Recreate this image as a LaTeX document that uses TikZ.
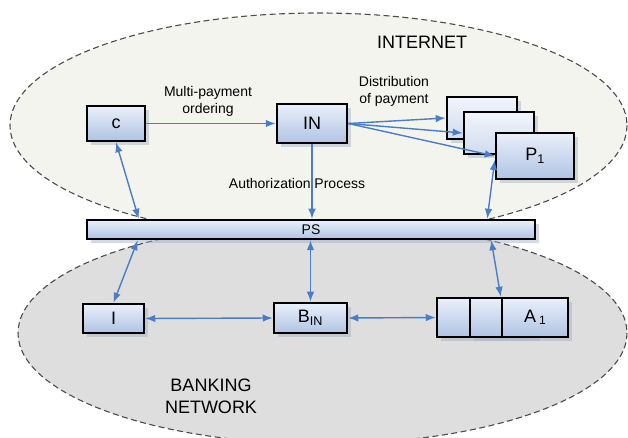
\documentclass[tikz,border=0pt]{standalone}
\usepackage{fontspec}
\setmainfont{Liberation Sans}
\usetikzlibrary{arrows.meta,shadows}
\definecolor{arrblue}{HTML}{4A7DC9}
\definecolor{boxtop}{HTML}{EAF0FA}
\definecolor{boxbot}{HTML}{AFC3E3}
\definecolor{netfill}{HTML}{F4F4EE}
\definecolor{bankfill}{HTML}{DEDEDE}

\begin{document}
\begin{tikzpicture}[x=1bp,y=-1bp,>={Latex[length=10bp,width=7.5bp]},
  b/.style={draw=black,line width=2.5bp,top color=boxtop,bottom color=boxbot,
            drop shadow={shadow xshift=4bp,shadow yshift=-4bp,fill=boxbot!70!gray,opacity=.45},
            inner sep=0pt,font=\fontsize{18bp}{20bp}\selectfont},
  lt/.style={top color=boxtop!60!white,bottom color=boxbot!60!white},
  t/.style={align=center,font=\fontsize{14bp}{17bp}\selectfont},
  h/.style={align=center,font=\fontsize{18bp}{22bp}\selectfont},
  a/.style={->,arrblue,line width=1.4bp},
  aa/.style={<->,arrblue,line width=1.4bp},
  net/.style={draw=black!70,line width=1.1bp,dash pattern=on 6bp off 3.5bp}]
\useasboundingbox (0,0) rectangle (628,438);
\clip (0,0) rectangle (628,438);
\fill[white] (0,0) rectangle (628,438);
\draw[net,fill=bankfill] (322.5,333) ellipse [x radius=304.5,y radius=111];
\draw[net,fill=netfill] (318.5,125.4) ellipse [x radius=308.5,y radius=112.4];
\node[h] (inet) at (422,42) {INTERNET};
\node[h] (bank) at (211,396) {BANKING\\NETWORK};
\node[b,minimum width=58bp,minimum height=35bp] (c) at (116,123.5) {c};
\node[b,minimum width=70bp,minimum height=39bp] (in) at (312,123.5) {IN};
\node[b,lt,minimum width=70bp,minimum height=42bp] (p3) at (482,118) {};
\node[b,lt,minimum width=70bp,minimum height=42bp] (p2) at (499,133) {};
\node[b,minimum width=78bp,minimum height=46bp] (p1) at (535,156) {P\textsubscript{1}};
\node[b,minimum width=448bp,minimum height=19bp,
      font=\fontsize{14bp}{15bp}\selectfont] (ps) at (311,229.5) {PS};
\node[b,minimum width=61bp,minimum height=29bp] (i) at (113.5,318.5) {I};
\node[b,minimum width=73bp,minimum height=30bp] (bin) at (310.5,318) {B\textsubscript{IN}};
\node[b,minimum width=66bp,minimum height=39bp] (a3) at (470,317.5) {};
\node[b,minimum width=66bp,minimum height=39bp] (a2) at (503,317.5) {};
\node[b,minimum width=66bp,minimum height=39bp] (a1) at (535,317.5)
  {A\,{\fontsize{12bp}{12bp}\selectfont\raisebox{-2bp}{1}}};
\node[t] (mp) at (208,101) {Multi-payment\\ordering};
\node[t] (dp) at (394,91.5) {Distribution\\of payment};
\node[t] (ap) at (297,183) {Authorization Process};
\draw[a] (c) -- (in);
\foreach \p in {p3,p2,p1} \draw[a] (in.east) -- (\p.west);
\draw[a] (in.south) -- (in.south |- ps.north);
\draw[aa] (c.south) -- ([xshift=53bp]ps.north west);
\draw[aa] ([xshift=-49bp]ps.north east) -- ([yshift=-4bp]p1.west);
\draw[aa] (i.north) -- ([xshift=52bp]ps.south west);
\draw[aa] (bin.north) -- (bin.north |- ps.south);
\draw[aa] ([xshift=-45bp]ps.south east) -- (a1.north west);
\draw[aa] (i.east) -- (bin.west);
\draw[aa] (bin.east) -- (a3.west);
\end{tikzpicture}
\end{document}
